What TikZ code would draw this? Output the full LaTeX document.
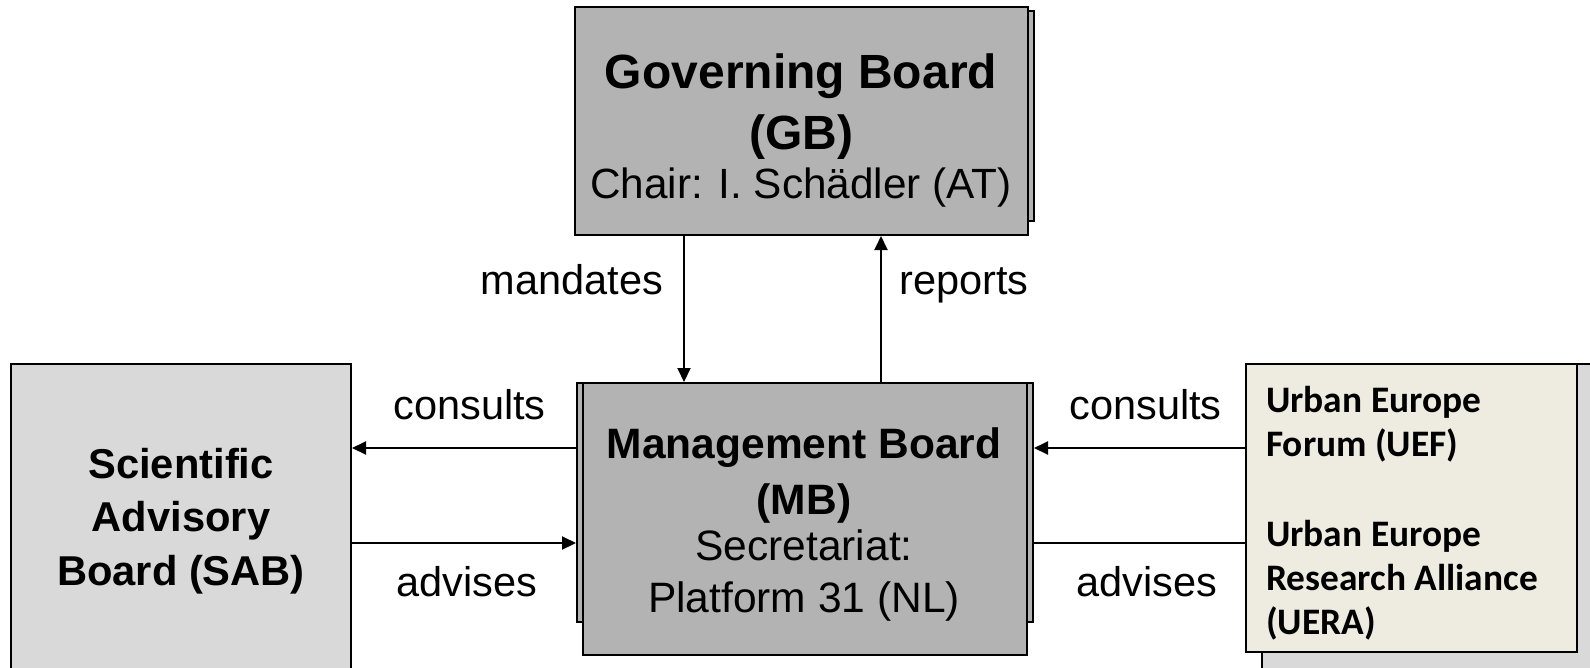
\documentclass[tikz,border=0pt]{standalone}
\usepackage{fontspec}
\setmainfont{Liberation Sans}
\newfontfamily\uefont{Carlito}
\usetikzlibrary{arrows.meta}
\definecolor{boardgray}{HTML}{B3B3B3}
\definecolor{sidegray}{HTML}{D9D9D9}
\definecolor{paper}{HTML}{EEECE1}

\begin{document}
\begin{tikzpicture}[x=1pt,y=-1pt,
    board/.style={draw, line width=2pt, fill=boardgray, inner sep=0pt},
    side/.style={draw, line width=2pt, fill=sidegray, inner sep=0pt},
    flow/.style={line width=2pt, -{Triangle[length=14pt,width=13pt]}},
    verb/.style={font=\fontsize{41.5}{49}\selectfont, inner sep=0pt, anchor=base}]
        \useasboundingbox (0,0) rectangle (1590,667);
        % Draw the boxes lying behind
        \node[board, minimum width=449pt, minimum height=210pt] (gbback) at (809.5,116) {};
        \node[board, minimum width=456pt, minimum height=239pt] (mbback) at (805,502.5) {};
        \node[side, minimum width=340pt, minimum height=330pt] (uefback) at (1432,529) {};
        % Draw the boards
        \node[board, minimum width=453pt, minimum height=228pt] (gb) at (801.5,121) {};
        \node[board, minimum width=444pt, minimum height=272pt] (mb) at (805,519) {};
        \node[side, minimum width=340pt, minimum height=330pt] (sab) at (181,529) {};
        \node[draw, line width=2pt, fill=paper, inner sep=0pt, minimum width=331pt, minimum height=288pt] (uef) at (1411.5,508) {};
        % Texts of the boards
        \node[font=\fontsize{48}{61}\selectfont\bfseries, align=center, inner sep=0pt] (gbtext) at (801,130)
            {Governing Board\\(GB)\\[-12pt]{\mdseries\fontsize{42.3}{49}\selectfont Chair: I. Schädler (AT)}};
        \node[font=\fontsize{42.5}{52}\selectfont\bfseries, align=center, inner sep=0pt] (mbtext) at (804,524)
            {Management Board\\[4pt](MB)\\[-6pt]{\mdseries Secretariat:}\\{\mdseries Platform 31 (NL)}};
        \node[font=\fontsize{41.7}{53.5}\selectfont\bfseries, align=center, inner sep=0pt] (sabtext) at (181,521)
            {Scientific\\Advisory\\Board (SAB)};
        \node[font=\uefont\bfseries\fontsize{37.4}{44}\selectfont, align=left, inner sep=0pt, anchor=west] (ueftext) at (1266,513)
            {Urban Europe\\Forum (UEF)\\[46pt]Urban Europe\\Research Alliance\\(UERA)};
        % Rows of the side arrows
        \coordinate (consultrow) at (0,448);
        \coordinate (adviserow) at (0,543);
        % Arrows between the boards
        \draw[flow] ([xshift=-117.5pt]gb.south) -- ([xshift=-117.5pt]gb.south |- mb.north);
        \draw[flow] ([xshift=79.5pt]gb.south |- mb.north) -- ([xshift=79.5pt]gb.south);
        \draw[flow] (mbback.west |- consultrow) -- (sab.east |- consultrow);
        \draw[flow] (sab.east |- adviserow) -- (mbback.west |- adviserow);
        \draw[flow] (uef.west |- consultrow) -- (mbback.east |- consultrow);
        \draw[line width=2pt] (mbback.east |- adviserow) -- (uef.west |- adviserow);
        % Labels of the arrows
        \node[verb] (mandlabel) at (572,294) {mandates};
        \node[verb] (replabel) at (964,294) {reports};
        \node[verb] (conslabel) at (469.5,419) {consults};
        \node[verb] (advlabel) at (467,596) {advises};
        \node[verb] (consrlabel) at (1145.5,419) {consults};
        \node[verb] (advrlabel) at (1147,596) {advises};
    \end{tikzpicture}
\end{document}
